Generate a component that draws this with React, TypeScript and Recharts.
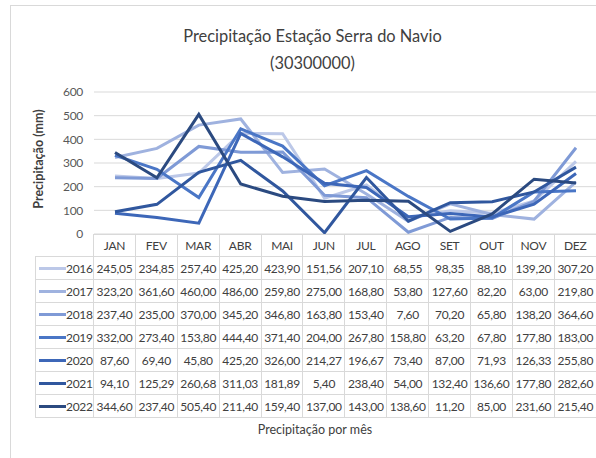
import React from 'react';
import { LineChart, Line, XAxis, YAxis, CartesianGrid } from 'recharts';

const months = ['JAN', 'FEV', 'MAR', 'ABR', 'MAI', 'JUN', 'JUL', 'AGO', 'SET', 'OUT', 'NOV', 'DEZ'];
const yTicks = [0, 100, 200, 300, 400, 500, 600];

const y2016 = [245.05, 234.85, 257.4, 425.2, 423.9, 151.56, 207.1, 68.55, 98.35, 88.1, 139.2, 307.2];
const y2017 = [323.2, 361.6, 460.0, 486.0, 259.8, 275.0, 168.8, 53.8, 127.6, 82.2, 63.0, 219.8];
const y2018 = [237.4, 235.0, 370.0, 345.2, 346.8, 163.8, 153.4, 7.6, 70.2, 65.8, 138.2, 364.6];
const y2019 = [332.0, 273.4, 153.8, 444.4, 371.4, 204.0, 267.8, 158.8, 63.2, 67.8, 177.8, 183.0];
const y2020 = [87.6, 69.4, 45.8, 425.2, 326.0, 214.27, 196.67, 73.4, 87.0, 71.93, 126.33, 255.8];
const y2021 = [94.1, 125.29, 260.68, 311.03, 181.89, 5.4, 238.4, 54.0, 132.4, 136.6, 177.8, 282.6];
const y2022 = [344.6, 237.4, 505.4, 211.4, 159.4, 137.0, 143.0, 138.6, 11.2, 85.0, 231.6, 215.4];

const series = [
  { name: '2016', values: y2016, color: '#bcc8e8' },
  { name: '2017', values: y2017, color: '#9fb2df' },
  { name: '2018', values: y2018, color: '#7f9ad6' },
  { name: '2019', values: y2019, color: '#4a76c6' },
  { name: '2020', values: y2020, color: '#3d67b8' },
  { name: '2021', values: y2021, color: '#30579e' },
  { name: '2022', values: y2022, color: '#2b4a80' },
];

const data = months.map((m, i) => {
  const row: Record<string, string | number> = { month: m };
  series.forEach((s) => (row[s.name] = s.values[i]));
  return row;
});

const fmt = (v: number) => v.toFixed(2).replace('.', ',');

const FONT = 'Lato, "Open Sans", sans-serif';
const GRID = '#d9d9d9';
const TXT = '#404040';

const cell: React.CSSProperties = {
  border: `1px solid ${GRID}`,
  padding: 0,
  textAlign: 'center',
  fontSize: 12,
  letterSpacing: -0.3,
  color: TXT,
  height: 22,
  whiteSpace: 'nowrap',
  overflow: 'hidden',
};

export default function App() {
  return (
    <div
      style={{
        position: 'absolute',
        left: 0,
        top: 0,
        width: 596,
        height: 458,
        overflow: 'hidden',
        background: '#fff',
        fontFamily: FONT,
      }}
    >
      <div
        style={{
          position: 'absolute',
          left: 10,
          top: 5,
          width: 600,
          height: 470,
          borderLeft: `1px solid ${GRID}`,
          borderTop: `1px solid ${GRID}`,
        }}
      />
      <div
        style={{
          position: 'absolute',
          left: 0,
          top: 22,
          width: 596,
          textAlign: 'center',
          paddingLeft: 29,
          boxSizing: 'border-box',
          fontSize: 16.4,
          lineHeight: '27px',
          color: TXT,
        }}
      >
        Precipitação Estação Serra do Navio
        <br />
        (30300000)
      </div>
      <div
        style={{
          position: 'absolute',
          left: 38,
          top: 159,
          transform: 'translate(-50%, -50%) rotate(-90deg)',
          fontSize: 12.5,
          fontWeight: 'bold',
          color: TXT,
          whiteSpace: 'nowrap',
        }}
      >
        Precipitação (mm)
      </div>
      <div style={{ position: 'absolute', left: 0, top: 0 }}>
        <LineChart width={600} height={240} data={data} margin={{ top: 92, right: 3, bottom: 6, left: 0 }}>
          <CartesianGrid vertical={false} stroke={GRID} />
          <XAxis dataKey="month" hide padding={{ left: 21, right: 21 }} />
          <YAxis
            width={94}
            domain={[0, 600]}
            ticks={yTicks}
            interval={0}
            axisLine={false}
            tickLine={false}
            tickSize={0}
            tickMargin={11}
            tick={{ fontSize: 12, fill: '#595959', fontFamily: FONT, letterSpacing: -0.3 }}
          />
          {series.map((s) => (
            <Line
              key={s.name}
              type="linear"
              dataKey={s.name}
              stroke={s.color}
              strokeWidth={3}
              dot={false}
              isAnimationActive={false}
            />
          ))}
        </LineChart>
      </div>
      <table
        style={{
          position: 'absolute',
          left: 35,
          top: 234,
          width: 561,
          borderCollapse: 'collapse',
          tableLayout: 'fixed',
          fontFamily: FONT,
        }}
      >
        <colgroup>
          <col style={{ width: 58 }} />
          {months.map((m) => (
            <col key={m} style={{ width: 41.9 }} />
          ))}
        </colgroup>
        <tbody>
          <tr>
            <td style={{ ...cell, border: 'none', borderRight: `1px solid ${GRID}`, height: 21 }} />
            {months.map((m) => (
              <td key={m} style={{ ...cell, height: 21 }}>
                {m}
              </td>
            ))}
          </tr>
          {series.map((s) => (
            <tr key={s.name}>
              <td style={{ ...cell, textAlign: 'left' }}>
                <span
                  style={{
                    display: 'inline-block',
                    width: 27,
                    height: 3,
                    background: s.color,
                    verticalAlign: 'middle',
                    marginLeft: 3,
                  }}
                />
                <span style={{ verticalAlign: 'middle' }}>{s.name}</span>
              </td>
              {s.values.map((v, i) => (
                <td key={i} style={cell}>
                  {fmt(v)}
                </td>
              ))}
            </tr>
          ))}
        </tbody>
      </table>
      <div
        style={{
          position: 'absolute',
          left: 0,
          top: 422,
          width: 596,
          paddingLeft: 34,
          boxSizing: 'border-box',
          textAlign: 'center',
          fontSize: 12.5,
          color: TXT,
        }}
      >
        Precipitação por mês
      </div>
    </div>
  );
}
